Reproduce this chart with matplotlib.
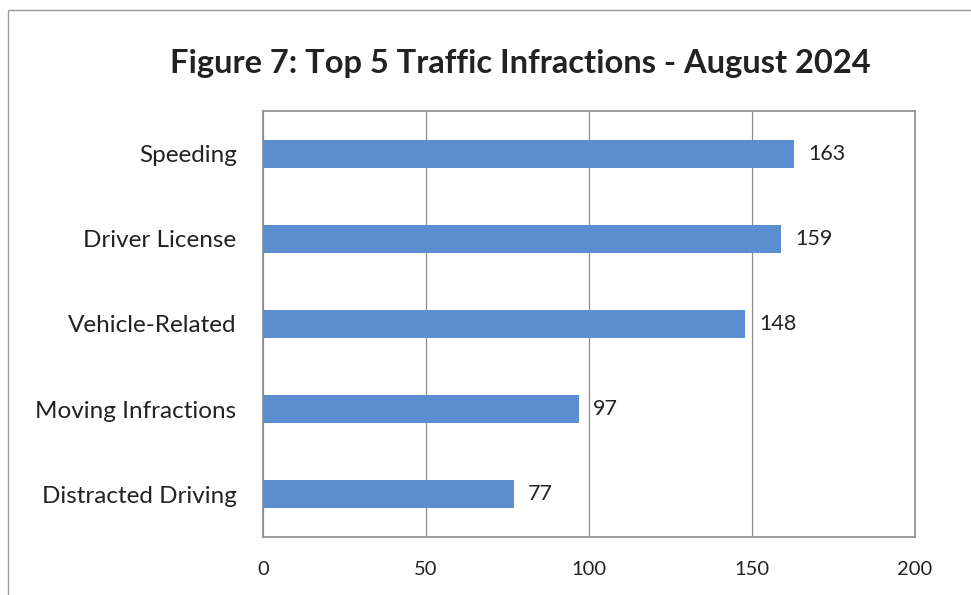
import matplotlib
matplotlib.use("Agg")
import matplotlib.pyplot as plt
from matplotlib.patches import Rectangle

categories = ["Speeding", "Driver License", "Vehicle-Related", "Moving Infractions", "Distracted Driving"]
values = [163, 159, 148, 97, 77]
xticks = [0, 50, 100, 150, 200]
title = "Figure 7: Top 5 Traffic Infractions - August 2024"

plt.rcParams['font.family'] = ['Lato', 'DejaVu Sans']

fig = plt.figure(figsize=(9.71, 5.95), dpi=100)
ax = fig.add_axes([263/971, 1-537/595, (915-263)/971, (537-111)/595])

ypos = list(range(len(categories)))
ax.barh(ypos, values, height=0.33, color="#5a8ecf", zorder=3)
ax.set_ylim(len(categories)-0.5, -0.5)
ax.set_xlim(0, 200)
ax.set_yticks(ypos)
ax.set_yticklabels(categories, fontsize=17.5, color="#222222")
ax.set_xticks(xticks)
ax.set_xticklabels([str(t) for t in xticks], fontsize=14.5, color="#222222")
ax.tick_params(axis='y', length=0, pad=19)
ax.tick_params(axis='x', length=0, pad=17)
ax.grid(axis='x', color="#8c8c8c", linewidth=0.9, zorder=0)
for s in ax.spines.values():
    s.set_color("#8c8c8c")
    s.set_linewidth(1.2)

for y, v in zip(ypos, values):
    ax.annotate(str(v), (v, y), xytext=(10, 0), textcoords="offset points",
                ha="left", va="center", fontsize=15.5, color="#222222")

fig.text(0.5355, 1-64/595, title, ha="center", va="center", fontsize=23.5,
         fontweight="bold", color="#222222")

fig.patches.append(Rectangle((8/971, -0.01), 1.2, 1-10/595+0.01, transform=fig.transFigure,
                             fill=False, edgecolor="#9a9a9a", linewidth=1.0))

fig.savefig("out.png", dpi=100)
